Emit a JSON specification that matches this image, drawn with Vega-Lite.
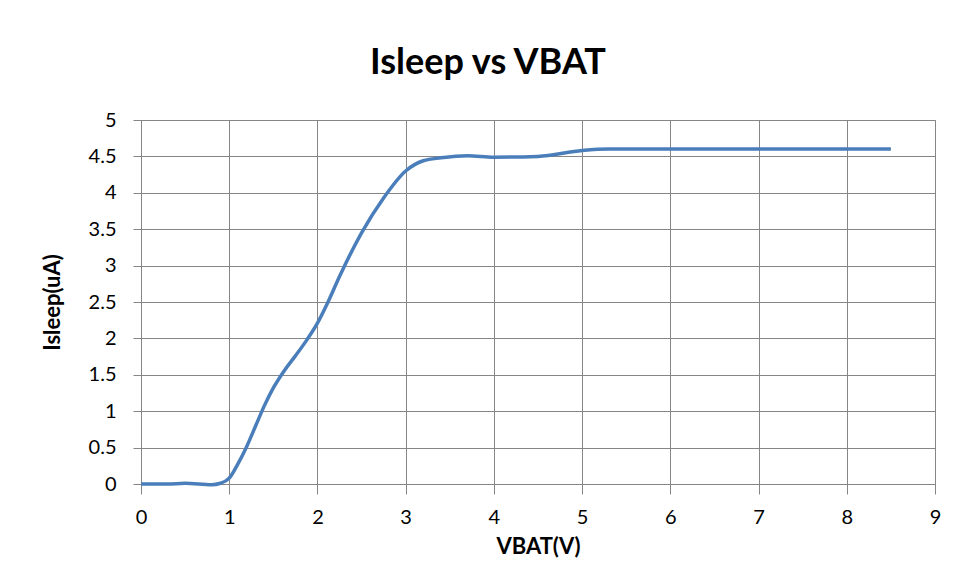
{
  "$schema": "https://vega.github.io/schema/vega-lite/v6.json",
  "autosize": {"type": "none"},
  "width": 794,
  "height": 364,
  "padding": {"left": 141, "top": 120, "right": 28, "bottom": 97},
  "background": "white",
  "title": {
    "text": "Isleep vs VBAT",
    "anchor": "middle",
    "frame": "group",
    "dx": -50,
    "offset": 28,
    "font": "Lato",
    "fontSize": 36,
    "fontWeight": "bold",
    "color": "#000000"
  },
  "config": {
    "view": {"stroke": "#868686", "strokeWidth": 1},
    "axis": {
      "gridColor": "#868686",
      "gridWidth": 1,
      "gridOpacity": 1,
      "domainColor": "#868686",
      "tickColor": "#868686",
      "labelFont": "Lato",
      "labelFontSize": 20,
      "labelColor": "#000000",
      "labelFlush": false,
      "titleFont": "Lato",
      "titleFontSize": 22,
      "titleFontWeight": "bold",
      "titleColor": "#000000"
    }
  },
  "data": {
    "values": [
      {"v": 0, "i": 0.0},
      {"v": 0.3, "i": 0.0},
      {"v": 0.5, "i": 0.01},
      {"v": 0.8, "i": -0.01},
      {"v": 0.9, "i": 0.01},
      {"v": 1.0, "i": 0.08},
      {"v": 1.1, "i": 0.28},
      {"v": 1.2, "i": 0.52},
      {"v": 1.3, "i": 0.8},
      {"v": 1.4, "i": 1.08},
      {"v": 1.5, "i": 1.32},
      {"v": 1.62, "i": 1.55},
      {"v": 1.75, "i": 1.76},
      {"v": 1.88, "i": 1.98},
      {"v": 2.0, "i": 2.21},
      {"v": 2.12, "i": 2.5},
      {"v": 2.25, "i": 2.85},
      {"v": 2.5, "i": 3.45},
      {"v": 2.75, "i": 3.93},
      {"v": 3.0, "i": 4.3},
      {"v": 3.2, "i": 4.44},
      {"v": 3.4, "i": 4.48},
      {"v": 3.7, "i": 4.51},
      {"v": 4.0, "i": 4.49},
      {"v": 4.5, "i": 4.5},
      {"v": 5.0, "i": 4.58},
      {"v": 5.3, "i": 4.6},
      {"v": 6.0, "i": 4.6},
      {"v": 7.0, "i": 4.6},
      {"v": 8.0, "i": 4.6},
      {"v": 8.5, "i": 4.6}
    ]
  },
  "mark": {"type": "line", "interpolate": "monotone", "color": "#4A7EBB", "strokeWidth": 3.5},
  "encoding": {
    "x": {
      "field": "v",
      "type": "quantitative",
      "scale": {"domain": [0, 9], "nice": false, "zero": false},
      "axis": {"values": [0,1,2,3,4,5,6,7,8,9], "format": "~g", "title": "VBAT(V)", "titlePadding": 9, "tickSize": 10, "labelPadding": 13}
    },
    "y": {
      "field": "i",
      "type": "quantitative",
      "scale": {"domain": [0, 5], "nice": false},
      "axis": {"values": [0,0.5,1,1.5,2,2.5,3,3.5,4,4.5,5], "format": "~g", "title": "Isleep(uA)", "titlePadding": 24, "tickSize": 8, "labelPadding": 17}
    }
  }
}
